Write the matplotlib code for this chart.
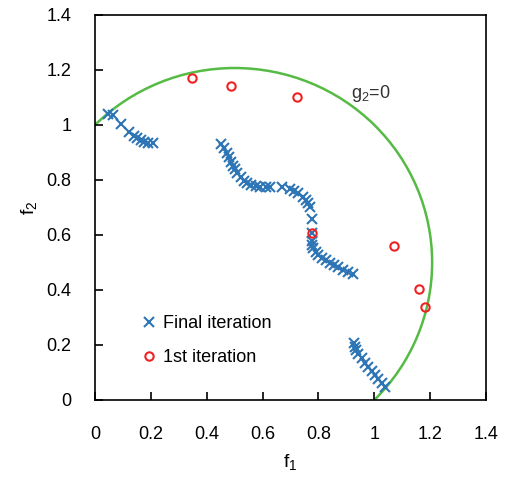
import matplotlib
matplotlib.use("Agg")
from matplotlib import pyplot as plt
from matplotlib.patches import Arc
import numpy as np

plt.rcParams["font.family"] = ["Liberation Sans", "DejaVu Sans"]
plt.rcParams["mathtext.default"] = "regular"

################################################################################
# Data
################################################################################

# final iteration (blue crosses)
final_f1 = [0.045, 0.066, 0.093, 0.122, 0.140, 0.151, 0.165, 0.177, 0.191, 0.209,
            0.451, 0.462, 0.471, 0.481, 0.486, 0.493, 0.501, 0.510, 0.522, 0.533,
            0.545, 0.558, 0.575, 0.590, 0.612, 0.625, 0.668, 0.698, 0.713, 0.728,
            0.744, 0.755, 0.764, 0.770, 0.776, 0.776, 0.776, 0.778, 0.782, 0.790,
            0.800, 0.812, 0.826, 0.841, 0.857, 0.871, 0.889, 0.907, 0.925,
            0.927, 0.931, 0.934, 0.943, 0.955, 0.967, 0.979, 0.991, 1.002, 1.014,
            1.027, 1.038]
final_f2 = [1.040, 1.036, 1.004, 0.973, 0.961, 0.951, 0.945, 0.939, 0.936, 0.933,
            0.931, 0.915, 0.899, 0.882, 0.867, 0.851, 0.839, 0.827, 0.812, 0.798,
            0.788, 0.781, 0.777, 0.776, 0.776, 0.776, 0.776, 0.768, 0.761, 0.752,
            0.739, 0.727, 0.715, 0.701, 0.657, 0.606, 0.579, 0.564, 0.551, 0.539,
            0.527, 0.518, 0.509, 0.499, 0.491, 0.482, 0.473, 0.467, 0.458,
            0.206, 0.194, 0.182, 0.167, 0.151, 0.136, 0.121, 0.107, 0.091, 0.075,
            0.061, 0.046]

# first iteration (red circles)
first_f1 = [0.346, 0.487, 0.723, 0.776, 1.071, 1.161, 1.180]
first_f2 = [1.170, 1.143, 1.102, 0.606, 0.561, 0.403, 0.338]

# constraint g2 = 0 : circle arc
g2_center = (0.5, 0.5)
g2_radius = np.sqrt(0.5)

tick_vals = [0, 0.2, 0.4, 0.6, 0.8, 1.0, 1.2, 1.4]
tick_labels = ["0", "0.2", "0.4", "0.6", "0.8", "1", "1.2", "1.4"]

################################################################################
# Plot
################################################################################

fig = plt.figure(figsize=(5.07, 4.8), dpi=100)
ax = fig.add_axes([0.1874, 0.1667, 0.7712, 0.8021])

ax.add_patch(Arc(g2_center, 2 * g2_radius, 2 * g2_radius, theta1=-45, theta2=135,
                 color="#55bb44", linewidth=1.8, zorder=1))

ax.plot(final_f1, final_f2, linestyle="none", marker="x", markersize=7.5,
        markeredgewidth=1.5, color="#2e75b6", label="Final iteration", zorder=3)
ax.plot(first_f1, first_f2, linestyle="none", marker="o", markersize=6,
        markeredgewidth=1.5, markerfacecolor="none", markeredgecolor="#ee2222",
        label="1st iteration", zorder=4)

ax.text(0.917, 1.116, "g$_2$=0", fontsize=13, color="#333333", va="center", ha="left")

ax.set_xlim(0, 1.4)
ax.set_ylim(0, 1.4)
ax.set_xticks(tick_vals)
ax.set_yticks(tick_vals)
ax.set_xticklabels(tick_labels)
ax.set_yticklabels(tick_labels)
ax.tick_params(direction="in", length=6, width=1.2, labelsize=13)
ax.tick_params(axis="x", pad=19)
ax.tick_params(axis="y", pad=17)
for s in ax.spines.values():
    s.set_linewidth(1.2)

ax.set_xlabel("f$_1$", fontsize=14, labelpad=6)
ax.set_ylabel("f$_2$", fontsize=14, labelpad=5)

ax.legend(loc="lower left", bbox_to_anchor=(0.07, 0.045), frameon=False, fontsize=13,
          handletextpad=0.15, labelspacing=0.95, handlelength=1.2)

fig.savefig("out.png", dpi=100)
